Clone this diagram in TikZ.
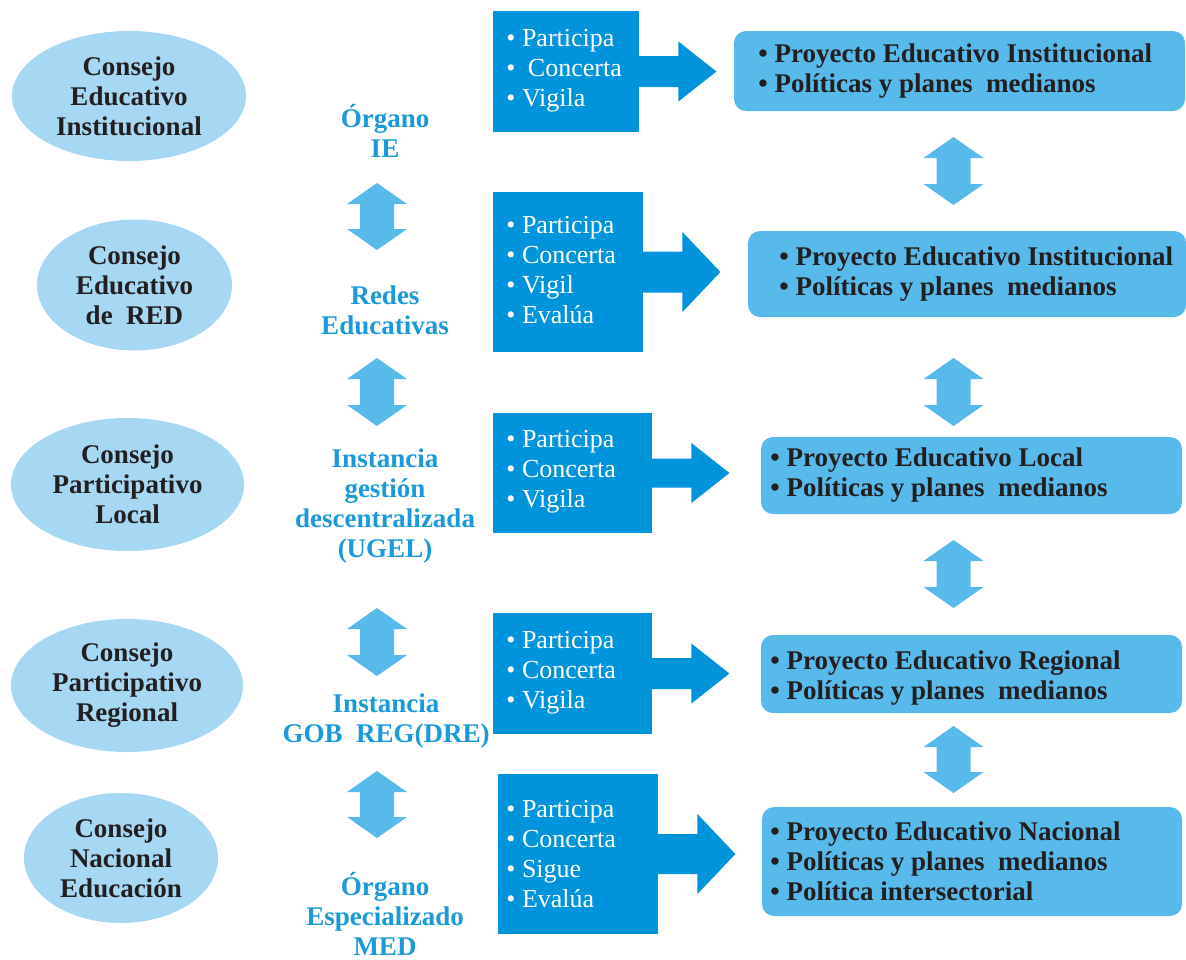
\documentclass[tikz,border=0pt]{standalone}
\usepackage{fontspec}
\setmainfont{Liberation Serif}
\usepackage{tikz}
\usetikzlibrary{shapes.geometric}
\definecolor{consejo}{HTML}{A6D7F3}
\definecolor{accion}{HTML}{0094DC}
\definecolor{proyecto}{HTML}{58B9EB}
\definecolor{organo}{HTML}{1A9AD8}
\definecolor{tinta}{HTML}{231F20}

\begin{document}
\begin{tikzpicture}[x=0.5pt, y=-0.5pt,
    consejo/.style={ellipse, fill=consejo, inner sep=0pt, align=center, text=tinta,
        font=\fontsize{13.5}{15}\selectfont\bfseries},
    organo/.style={align=center, inner sep=0pt, text=organo,
        font=\fontsize{13.5}{15}\selectfont\bfseries},
    flecha/.style={fill=proyecto},
    accion/.style={fill=accion, inner sep=0pt},
    verbos/.style={align=left, anchor=west, inner sep=0pt, text=white,
        font=\fontsize{13}{15}\selectfont},
    proyecto/.style={fill=proyecto, rounded corners=6pt, inner sep=0pt},
    metas/.style={align=left, anchor=west, inner sep=0pt, text=tinta,
        font=\fontsize{13.5}{15}\selectfont\bfseries}]
    \useasboundingbox (0,0) rectangle (1186,959);

    \node[consejo, minimum width=117pt, minimum height=65pt] (cej1) at (129,96) {Consejo\\Educativo\\Institucional};
    \node[consejo, minimum width=97.5pt, minimum height=65.5pt] (cej2) at (134.5,285) {Consejo\\Educativo\\de \ RED};
    \node[consejo, minimum width=116.5pt, minimum height=66.5pt] (cej3) at (127.5,484.5) {Consejo\\Participativo\\Local};
    \node[consejo, minimum width=116pt, minimum height=66.5pt] (cej4) at (127,685.5) {Consejo\\Participativo\\Regional};
    \node[consejo, minimum width=97pt, minimum height=65pt] (cej5) at (121,858) {Consejo\\Nacional\\Educación};

    \node[organo] (org1) at (385,130.5) {Órgano\\IE};
    \node[organo] (org2) at (385,310.5) {Redes\\Educativas};
    \node[organo] (org3) at (385,506) {Instancia\\gestión\\descentralizada\\(UGEL)};
    \node[organo] (org4) at (386,720.5) {Instancia\\GOB \ REG(DRE)};
    \node[organo] (org5) at (385,914) {Órgano\\Especializado\\MED};

    \foreach \x/\a/\b in {377/183/250, 377/358/426, 377/608/676, 377/771/838,
                          953.5/137/205, 953.5/358/426, 953.5/540/608, 953.5/726/793} {
        \fill[flecha] (\x,\a) -- ({\x+30},{\a+21}) -- ({\x+17},{\a+21}) -- ({\x+17},{\b-21})
            -- ({\x+30},{\b-21}) -- (\x,\b) -- ({\x-30},{\b-21}) -- ({\x-17},{\b-21})
            -- ({\x-17},{\a+21}) -- ({\x-30},{\a+21}) -- cycle;
    }

    \node[accion, minimum width=73pt, minimum height=60.5pt] (acc1) at (566,71.5) {};
    \node[accion, minimum width=75pt, minimum height=80pt] (acc2) at (568,272) {};
    \node[accion, minimum width=79.5pt, minimum height=60pt] (acc3) at (572.5,473) {};
    \node[accion, minimum width=79.5pt, minimum height=60.5pt] (acc4) at (572.5,673.5) {};
    \node[accion, minimum width=80pt, minimum height=80pt] (acc5) at (578,854) {};

    \foreach \n/\s/\h in {1/15.5/30, 2/20.5/40, 3/14.5/30, 4/15.5/30, 5/20/40} {
        \fill[accion, shift={(acc\n.east)}] (-1,-\s) -- (39,-\s) -- (39,-\h) -- (77,0)
            -- (39,\h) -- (39,\s) -- (-1,\s) -- cycle;
    }

    \node[verbos] (vrb1) at (506,70.5) {• Participa\\• \hspace{3pt}Concerta\\• Vigila};
    \node[verbos] (vrb2) at (506,270.5) {• Participa\\• Concerta\\• Vigil\\• Evalúa};
    \node[verbos] (vrb3) at (506,472) {• Participa\\• Concerta\\• Vigila};
    \node[verbos] (vrb4) at (506,672.5) {• Participa\\• Concerta\\• Vigila};
    \node[verbos] (vrb5) at (506,854) {• Participa\\• Concerta\\• Sigue\\• Evalúa};

    \node[proyecto, minimum width=225.5pt, minimum height=40pt] (pro1) at (959.5,71) {};
    \node[proyecto, minimum width=219pt, minimum height=43pt] (pro2) at (967,274) {};
    \node[proyecto, minimum width=210.5pt, minimum height=38.5pt] (pro3) at (971.5,475.5) {};
    \node[proyecto, minimum width=210.5pt, minimum height=39pt] (pro4) at (971.5,674) {};
    \node[proyecto, minimum width=210pt, minimum height=54.5pt] (pro5) at (972,861.5) {};

    \node[metas] (met1) at (758,71) {• Proyecto Educativo Institucional\\• Políticas y planes \ medianos};
    \node[metas] (met2) at (779,274) {• Proyecto Educativo Institucional\\• Políticas y planes \ medianos};
    \node[metas] (met3) at (770,475) {• Proyecto Educativo Local\\• Políticas y planes \ medianos};
    \node[metas] (met4) at (770,678) {• Proyecto Educativo Regional\\• Políticas y planes \ medianos};
    \node[metas] (met5) at (770,861.5) {• Proyecto Educativo Nacional\\• Políticas y planes \ medianos\\• Política intersectorial};
\end{tikzpicture}
\end{document}
